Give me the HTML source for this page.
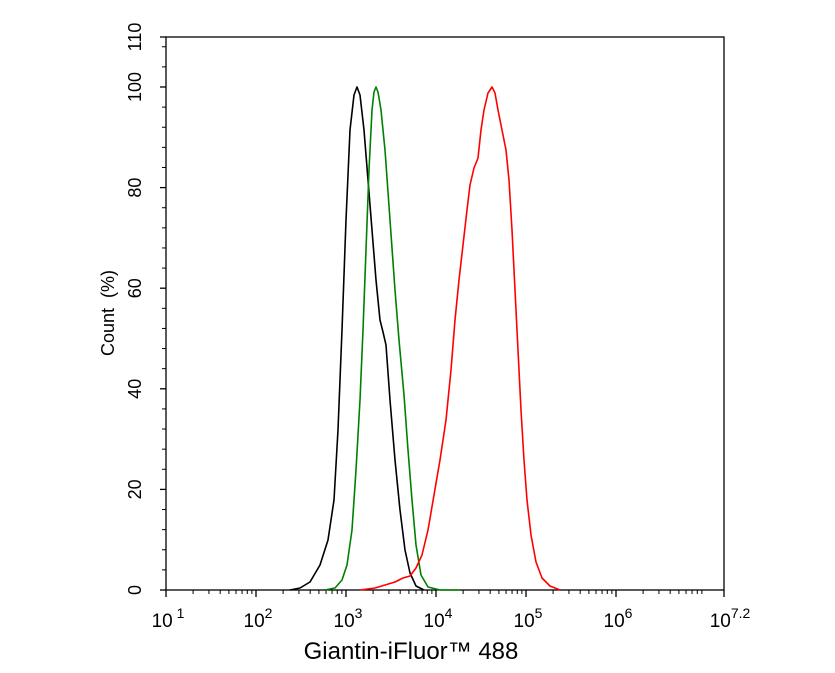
<!DOCTYPE html>
<html><head><style>body{margin:0;background:#fff}svg text{font-family:"Liberation Sans",sans-serif}</style></head><body>
<svg width="835" height="668" xmlns="http://www.w3.org/2000/svg">
<rect x="166" y="37" width="558" height="553" fill="none" stroke="#000" stroke-width="1.3"/>
<g stroke="#000" stroke-width="1.3">
<line x1="160" y1="590" x2="166" y2="590"/><line x1="160" y1="489.4" x2="166" y2="489.4"/><line x1="160" y1="388.8" x2="166" y2="388.8"/><line x1="160" y1="288.2" x2="166" y2="288.2"/><line x1="160" y1="187.6" x2="166" y2="187.6"/><line x1="160" y1="87" x2="166" y2="87"/><line x1="160" y1="37" x2="166" y2="37"/>
<line x1="166" y1="590" x2="166" y2="597"/><line x1="256" y1="590" x2="256" y2="597"/><line x1="346" y1="590" x2="346" y2="597"/><line x1="436" y1="590" x2="436" y2="597"/><line x1="526" y1="590" x2="526" y2="597"/><line x1="616" y1="590" x2="616" y2="597"/><line x1="724" y1="590" x2="724" y2="597"/>
</g>
<g stroke="#000" stroke-width="1" id="minor"></g>
<g font-size="18" text-anchor="middle">
<text transform="translate(141,590) rotate(-90)">0</text>
<text transform="translate(141,489.4) rotate(-90)">20</text>
<text transform="translate(141,388.8) rotate(-90)">40</text>
<text transform="translate(141,288.2) rotate(-90)">60</text>
<text transform="translate(141,187.6) rotate(-90)">80</text>
<text transform="translate(141,87) rotate(-90)">100</text>
<text transform="translate(141,37) rotate(-90)">110</text>
</g>
<g font-size="19" text-anchor="middle">
<text x="168" y="627">10<tspan font-size="14" dy="-9"> 1</tspan></text>
<text x="258" y="627">10<tspan font-size="14" dy="-9">2</tspan></text>
<text x="348" y="627">10<tspan font-size="14" dy="-9">3</tspan></text>
<text x="438" y="627">10<tspan font-size="14" dy="-9">4</tspan></text>
<text x="528" y="627">10<tspan font-size="14" dy="-9">5</tspan></text>
<text x="618" y="627">10<tspan font-size="14" dy="-9">6</tspan></text>
<text x="730" y="627">10<tspan font-size="14" dy="-9">7.2</tspan></text>
</g>
<text x="411" y="659" font-size="24" text-anchor="middle">Giantin-iFluor™ 488</text>
<text transform="translate(114,313) rotate(-90)" font-size="18" text-anchor="middle" xml:space="preserve">Count  (%)</text>
<polyline fill="none" stroke="#000" stroke-width="1.6" stroke-linejoin="round" points="290,590 300,588 310,582 320,565 328,540 334,500 338,430 342,330 346,220 350,130 354,95 357,87 360,95 364,130 368,180 372,230 376,280 380,320 383,332 386,345 390,400 395,460 400,510 405,550 410,573 416,586 424,590"/>
<polyline fill="none" stroke="#008000" stroke-width="1.6" stroke-linejoin="round" points="325,590 335,588 342,580 347,565 352,530 356,470 360,400 363,330 366,250 369,170 372,110 374,92 376,87 378,92 381,110 385,150 390,220 395,290 399,340 404,395 408,450 412,500 416,545 421,575 428,587 440,590 460,590"/>
<polyline fill="none" stroke="#f00" stroke-width="1.6" stroke-linejoin="round" points="360,590 375,588 385,585 395,582 403,578 410,576 416,568 422,555 428,530 434,495 440,460 446,420 451,370 455,320 459,280 463,245 467,210 470,185 474,168 478,158 481,130 484,110 488,93 492,87 495,93 498,110 502,130 506,150 509,180 512,230 515,290 518,350 521,410 524,460 527,500 531,535 536,562 542,578 550,586 560,590"/>
</svg>
<script>
(function(){var g=document.getElementById('minor'),s='';
for(var d=1;d<7;d++){for(var k=2;k<10;k++){var x=166+90*(d-1)+90*Math.log10(k);if(x<724)s+='<line x1="'+x+'" y1="590" x2="'+x+'" y2="594"/>';}}
for(var v=4;v<110;v+=4){if(v%20==0)continue;var y=590-v*5.03;s+='<line x1="162" y1="'+y+'" x2="166" y2="'+y+'"/>';}
g.innerHTML=s;})();
</script>
</body></html>
